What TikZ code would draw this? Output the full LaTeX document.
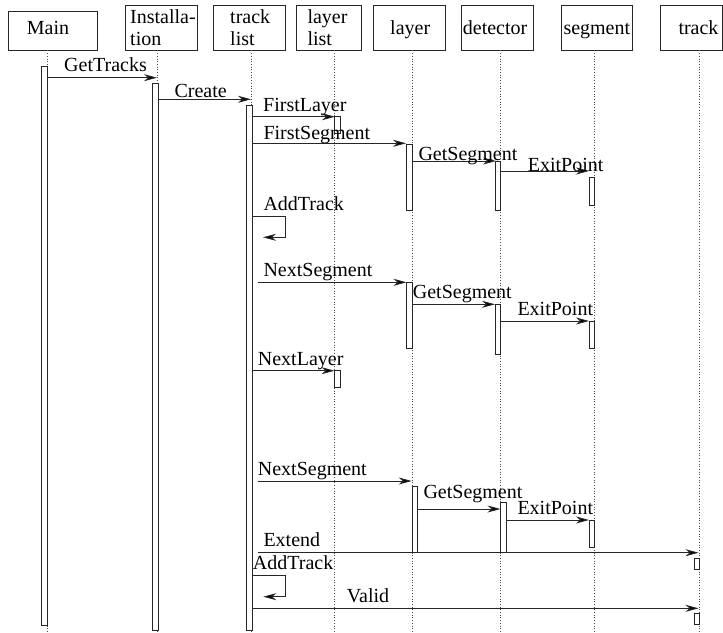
\documentclass[tikz,border=0pt]{standalone}
\usepackage{fontspec}
\setmainfont{Liberation Serif}
\usetikzlibrary{arrows.meta}
\begin{document}
\begin{tikzpicture}[x=1pt,y=-1pt,
  hdr/.style={draw=black!85, line width=0.9pt, inner sep=0pt},
  txt/.style={anchor=base west, inner sep=0pt, font=\fontsize{20}{23}\selectfont},
  life/.style={dotted, line width=0.7pt, black!70},
  bar/.style={draw=black!85, fill=white, line width=0.9pt},
  msg/.style={draw=black!85, line width=0.9pt, -{Stealth[length=13pt,width=7pt,inset=4pt,fill=black]}}]
\useasboundingbox (0,0) rectangle (723,632);
% header boxes
\node[hdr, minimum width=89.4pt, minimum height=38.3pt] (bMain) at (53,30.85) {};
\node[hdr, minimum width=72pt, minimum height=45pt] (bInst) at (161,27.5) {};
\node[hdr, minimum width=72pt, minimum height=45pt] (bTL) at (249,27.5) {};
\node[hdr, minimum width=65.7pt, minimum height=45pt] (bLL) at (328.85,27.5) {};
\node[hdr, minimum width=71.5pt, minimum height=45pt] (bLay) at (409.25,27.5) {};
\node[hdr, minimum width=72pt, minimum height=45pt] (bDet) at (497.5,27.5) {};
\node[hdr, minimum width=71.2pt, minimum height=45pt] (bSeg) at (597.1,27.5) {};
\node[hdr, minimum width=61.9pt, minimum height=45pt] (bTr) at (691.65,27.5) {};
% header texts
\node[txt] (hMain) at (26.7,34) {Main};
\node[txt] (hInst1) at (130,23.3) {Installa-};
\node[txt] (hInst2) at (130,45) {tion};
\node[txt] (hTL1) at (230,23.3) {track};
\node[txt] (hTL2) at (230,45) {list};
\node[txt] (hLL1) at (307.3,23.3) {layer};
\node[txt] (hLL2) at (307.3,45) {list};
\node[txt] (hLay) at (390,34) {layer};
\node[txt] (hDet) at (462.7,34) {detector};
\node[txt] (hSeg) at (563.3,34) {segment};
\node[txt] (hTr) at (678.3,34) {track};
% lifelines
\coordinate (lMain) at (47.7,632);
\coordinate (lInst) at (157.3,632);
\coordinate (lTL) at (251.7,632);
\coordinate (lLL) at (334.3,632);
\coordinate (lLay) at (412,632);
\coordinate (lDet) at (500.3,632);
\coordinate (lSeg) at (594.3,632);
\coordinate (lTr) at (699.3,632);
\draw[life] (bMain.south -| lMain) -- (lMain);
\draw[life] (bInst.south -| lInst) -- (lInst);
\draw[life] (bTL.south -| lTL) -- (lTL);
\draw[life] (bLL.south -| lLL) -- (lLL);
\draw[life] (bLay.south -| lLay) -- (lLay);
\draw[life] (bDet.south -| lDet) -- (lDet);
\draw[life] (bSeg.south -| lSeg) -- (lSeg);
\draw[life] (bTr.south -| lTr) -- (lTr);
% activation bars
\draw[bar] (41.8,66.7) rectangle (47.8,625);
\draw[bar] (152.5,83.3) rectangle (158,630);
\draw[bar] (246.5,105.3) rectangle (252,630);
\draw[bar] (334.3,116.5) rectangle (340,133);
\draw[bar] (406.7,144) rectangle (412,210);
\draw[bar] (495,161) rectangle (500.3,210);
\draw[bar] (589,177.3) rectangle (594.3,205);
\draw[bar] (406.7,282.3) rectangle (412,348.3);
\draw[bar] (495,304.3) rectangle (500.3,354);
\draw[bar] (589,321) rectangle (594.3,348.3);
\draw[bar] (334.5,370.7) rectangle (340,387.3);
\draw[bar] (412.2,486.7) rectangle (417.3,552.7);
\draw[bar] (500.5,502.7) rectangle (506,552.7);
\draw[bar] (589,520) rectangle (594.3,547.3);
\draw[bar] (694.3,558.3) rectangle (699.3,569.3);
\draw[bar] (694.3,613.3) rectangle (699.3,624.3);
% messages
\coordinate (m1a) at (48,77.7); \coordinate (m1b) at (157,77.7);
\draw[msg] (m1a) -- (m1b);
\node[txt] (t1) at (64,71.7) {GetTracks};
\coordinate (m2a) at (158,99.3); \coordinate (m2b) at (251,99.3);
\draw[msg] (m2a) -- (m2b);
\node[txt] (t2) at (174.3,97.5) {Create};
\coordinate (m3a) at (252,116.7); \coordinate (m3b) at (335,116.7);
\draw[msg] (m3a) -- (m3b);
\node[txt] (t3) at (263,111.5) {FirstLayer};
\coordinate (m4a) at (252,143.3); \coordinate (m4b) at (406,143.3);
\draw[msg] (m4a) -- (m4b);
\node[txt] (t4) at (263.3,139.3) {FirstSegment};
\coordinate (m5a) at (412,161); \coordinate (m5b) at (496,161);
\draw[msg] (m5a) -- (m5b);
\node[txt] (t5) at (418.3,160) {GetSegment};
\coordinate (m6a) at (500.3,171); \coordinate (m6b) at (589,171);
\draw[msg] (m6a) -- (m6b);
\node[txt] (t6) at (527.7,171.7) {ExitPoint};
\coordinate (s1a) at (252,216); \coordinate (s1b) at (263,237.3);
\draw[msg] (s1a) -- (285,216) |- (s1b);
\node[txt] (t7) at (263.3,210.7) {AddTrack};
\coordinate (m8a) at (257.7,282.3); \coordinate (m8b) at (406.5,282.3);
\draw[msg] (m8a) -- (m8b);
\node[txt] (t8) at (263.3,276.7) {NextSegment};
\coordinate (m9a) at (412,304.3); \coordinate (m9b) at (495,304.3);
\draw[msg] (m9a) -- (m9b);
\node[txt] (t9) at (412.7,298.3) {GetSegment};
\coordinate (m10a) at (500.3,321); \coordinate (m10b) at (589,321);
\draw[msg] (m10a) -- (m10b);
\node[txt] (t10) at (517.3,315) {ExitPoint};
\coordinate (m11a) at (252,370.7); \coordinate (m11b) at (334.5,370.7);
\draw[msg] (m11a) -- (m11b);
\node[txt] (t11) at (257.7,365) {NextLayer};
\coordinate (m12a) at (257.7,481); \coordinate (m12b) at (411.7,481);
\draw[msg] (m12a) -- (m12b);
\node[txt] (t12) at (257.7,475.7) {NextSegment};
\coordinate (m13a) at (417.3,509); \coordinate (m13b) at (500.5,509);
\draw[msg] (m13a) -- (m13b);
\node[txt] (t13) at (423.3,498.3) {GetSegment};
\coordinate (m14a) at (506,520); \coordinate (m14b) at (589,520);
\draw[msg] (m14a) -- (m14b);
\node[txt] (t14) at (517.3,514) {ExitPoint};
\coordinate (m15a) at (257.7,552.7); \coordinate (m15b) at (698.5,552.7);
\draw[msg] (m15a) -- (m15b);
\node[txt] (t15) at (263.3,546.7) {Extend};
\coordinate (s2a) at (252,575); \coordinate (s2b) at (263.3,596.7);
\draw[msg] (s2a) -- (285,575) |- (s2b);
\node[txt] (t16) at (252.7,569) {AddTrack};
\coordinate (m17a) at (252,608.3); \coordinate (m17b) at (698.5,608.3);
\draw[msg] (m17a) -- (m17b);
\node[txt] (t17) at (346.7,602.7) {Valid};
\end{tikzpicture}
\end{document}
